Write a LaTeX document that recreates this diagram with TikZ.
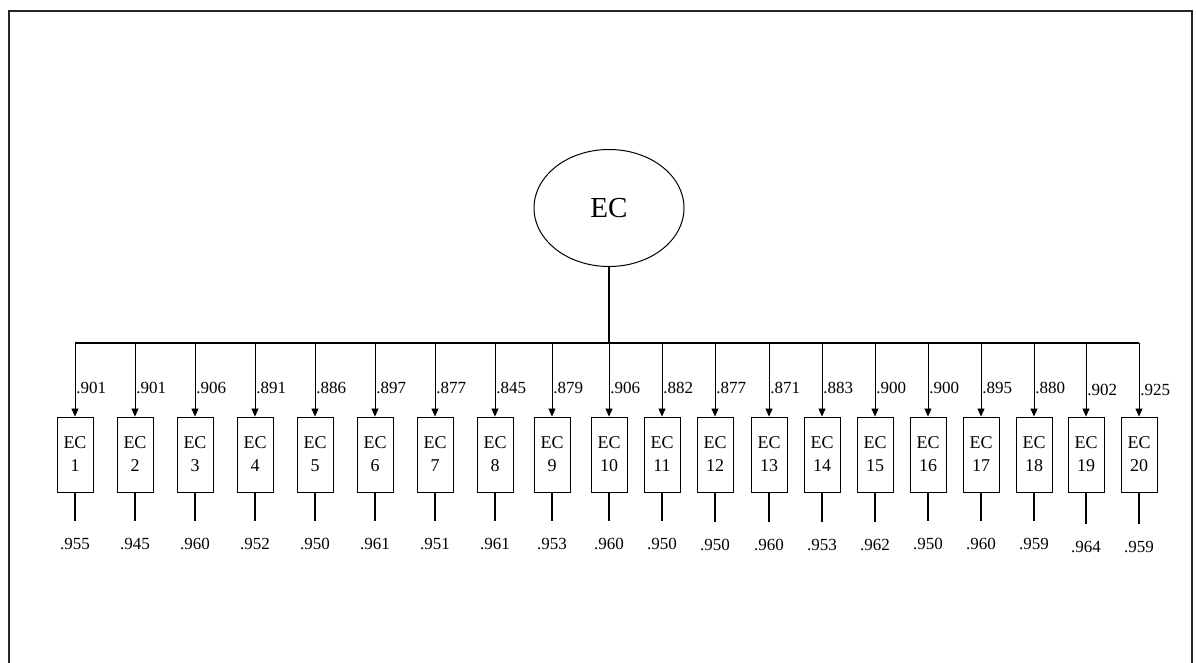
\documentclass[tikz,border=0pt]{standalone}
\usepackage{fontspec}
\setmainfont{Liberation Serif}
\usetikzlibrary{arrows.meta,shapes.geometric}

\begin{document}
\begin{tikzpicture}[x=1pt,y=1pt,>={Triangle[length=8pt,width=7pt]}]
\tikzstyle{ind}=[draw,line width=0.9pt,minimum width=36pt,minimum height=75pt,inner sep=0pt,align=center,font=\fontsize{18}{23}\selectfont]
\tikzstyle{load}=[->,line width=0.8pt]
\tikzstyle{ld}=[right,pos=0.61,inner sep=1pt,font=\fontsize{17}{20}\selectfont]
\tikzstyle{err}=[line width=1.5pt,shorten >=17pt]
\tikzstyle{res}=[inner sep=0pt,font=\fontsize{17}{20}\selectfont]
\useasboundingbox (0,0) rectangle (1196,-663);
% open frame
\draw[line width=2pt,black!85] (9,-663) -- (9,-11) -- (1192,-11) -- (1192,-663);
% factor
\node[ellipse,draw,line width=1pt,minimum width=150pt,minimum height=117pt,font=\fontsize{29}{34}\selectfont] (ec) at (609,-208) {EC};
\coordinate (hb) at (609,-343);
\draw[line width=2.5pt] (ec) -- (hb);
% indicators
\node[ind] (x1) at (75,-454.5) {EC\\1}; \draw[load] (x1|-hb) -- node[ld]{.901} (x1); \node[res] (r1) at (75,-544) {.955}; \draw[err] (x1) -- (r1);
\node[ind] (x2) at (135,-454.5) {EC\\2}; \draw[load] (x2|-hb) -- node[ld]{.901} (x2); \node[res] (r2) at (135,-544) {.945}; \draw[err] (x2) -- (r2);
\node[ind] (x3) at (195,-454.5) {EC\\3}; \draw[load] (x3|-hb) -- node[ld]{.906} (x3); \node[res] (r3) at (195,-544) {.960}; \draw[err] (x3) -- (r3);
\node[ind] (x4) at (255,-454.5) {EC\\4}; \draw[load] (x4|-hb) -- node[ld]{.891} (x4); \node[res] (r4) at (255,-544) {.952}; \draw[err] (x4) -- (r4);
\node[ind] (x5) at (315,-454.5) {EC\\5}; \draw[load] (x5|-hb) -- node[ld]{.886} (x5); \node[res] (r5) at (315,-544) {.950}; \draw[err] (x5) -- (r5);
\node[ind] (x6) at (375,-454.5) {EC\\6}; \draw[load] (x6|-hb) -- node[ld]{.897} (x6); \node[res] (r6) at (375,-544) {.961}; \draw[err] (x6) -- (r6);
\node[ind] (x7) at (435,-454.5) {EC\\7}; \draw[load] (x7|-hb) -- node[ld]{.877} (x7); \node[res] (r7) at (435,-544) {.951}; \draw[err] (x7) -- (r7);
\node[ind] (x8) at (495,-454.5) {EC\\8}; \draw[load] (x8|-hb) -- node[ld]{.845} (x8); \node[res] (r8) at (495,-544) {.961}; \draw[err] (x8) -- (r8);
\node[ind] (x9) at (552,-454.5) {EC\\9}; \draw[load] (x9|-hb) -- node[ld]{.879} (x9); \node[res] (r9) at (552,-544) {.953}; \draw[err] (x9) -- (r9);
\node[ind] (x10) at (609,-454.5) {EC\\10}; \draw[load] (x10|-hb) -- node[ld]{.906} (x10); \node[res] (r10) at (609,-544) {.960}; \draw[err] (x10) -- (r10);
\node[ind] (x11) at (662,-454.5) {EC\\11}; \draw[load] (x11|-hb) -- node[ld]{.882} (x11); \node[res] (r11) at (662,-544) {.950}; \draw[err] (x11) -- (r11);
\node[ind] (x12) at (715,-454.5) {EC\\12}; \draw[load] (x12|-hb) -- node[ld]{.877} (x12); \node[res] (r12) at (715,-545) {.950}; \draw[err] (x12) -- (r12);
\node[ind] (x13) at (769,-454.5) {EC\\13}; \draw[load] (x13|-hb) -- node[ld]{.871} (x13); \node[res] (r13) at (769,-545) {.960}; \draw[err] (x13) -- (r13);
\node[ind] (x14) at (822,-454.5) {EC\\14}; \draw[load] (x14|-hb) -- node[ld]{.883} (x14); \node[res] (r14) at (822,-545) {.953}; \draw[err] (x14) -- (r14);
\node[ind] (x15) at (875,-454.5) {EC\\15}; \draw[load] (x15|-hb) -- node[ld]{.900} (x15); \node[res] (r15) at (875,-545) {.962}; \draw[err] (x15) -- (r15);
\node[ind] (x16) at (928,-454.5) {EC\\16}; \draw[load] (x16|-hb) -- node[ld]{.900} (x16); \node[res] (r16) at (928,-544) {.950}; \draw[err] (x16) -- (r16);
\node[ind] (x17) at (981,-454.5) {EC\\17}; \draw[load] (x17|-hb) -- node[ld]{.895} (x17); \node[res] (r17) at (981,-544) {.960}; \draw[err] (x17) -- (r17);
\node[ind] (x18) at (1034,-454.5) {EC\\18}; \draw[load] (x18|-hb) -- node[ld]{.880} (x18); \node[res] (r18) at (1034,-544) {.959}; \draw[err] (x18) -- (r18);
\node[ind] (x19) at (1086,-454.5) {EC\\19}; \draw[load] (x19|-hb) -- node[ld,pos=0.64]{.902} (x19); \node[res] (r19) at (1086,-547) {.964}; \draw[err] (x19) -- (r19);
\node[ind] (x20) at (1139,-454.5) {EC\\20}; \draw[load] (x20|-hb) -- node[ld,pos=0.64]{.925} (x20); \node[res] (r20) at (1139,-547) {.959}; \draw[err] (x20) -- (r20);
% common bar
\draw[line width=1.5pt] (x1|-hb) -- (x20|-hb);
\end{tikzpicture}
\end{document}
